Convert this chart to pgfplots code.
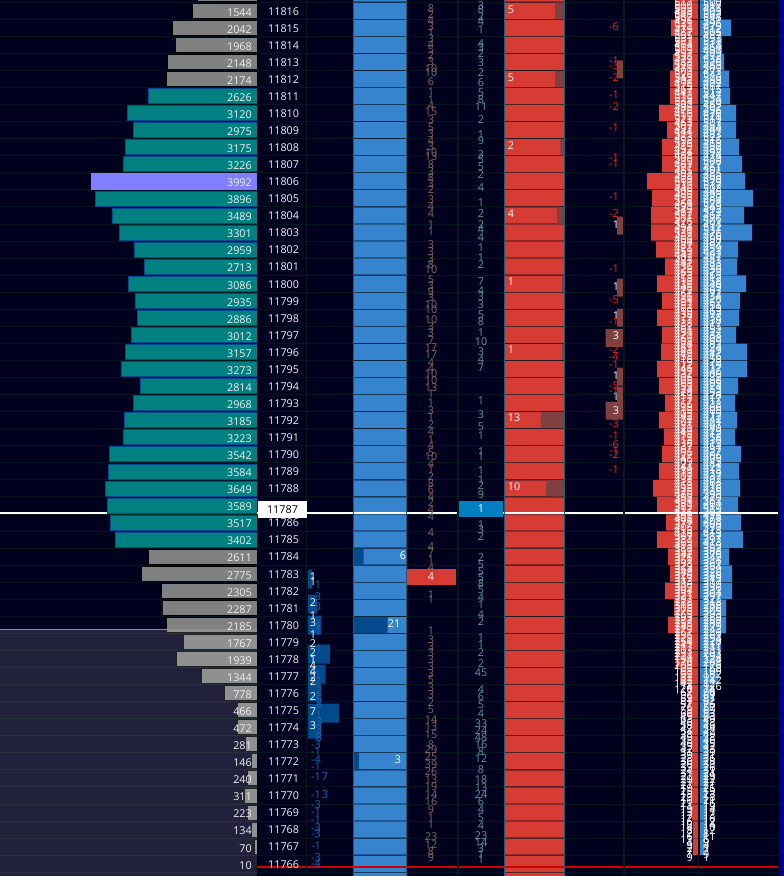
\documentclass[border=0pt]{standalone}
\usepackage{fontspec}
\setmainfont{Open Sans}
\usepackage{pgfplots}
\usepackage{pgfplotstable}
\pgfplotsset{compat=1.18}
\definecolor{bg}{HTML}{00001E}
\definecolor{rowline}{HTML}{06141F}
\definecolor{colline}{HTML}{08181C}
\definecolor{colborder}{HTML}{1A5F7A}
\definecolor{tealbar}{HTML}{008080}
\definecolor{tealedge}{HTML}{034A8C}
\definecolor{graybar}{HTML}{808080}
\definecolor{poc}{HTML}{8080FF}
\definecolor{bluecol}{HTML}{3584CD}
\definecolor{bluedark}{HTML}{034A8C}
\definecolor{redcol}{HTML}{D63C33}
\definecolor{reddark}{HTML}{804040}
\definecolor{brownnum}{HTML}{8A6660}
\definecolor{tealnum}{HTML}{5F98A0}
\definecolor{bluenum}{HTML}{0F6CB8}
\definecolor{boxblue}{HTML}{0080C0}
\definecolor{labelcol}{HTML}{F0F0F0}

% volume profile, split by colour
\pgfplotstableread{
p v
11817 1443
}\toprow
\pgfplotstableread{
p v
11816 1544
11815 2042
11814 1968
11813 2148
11812 2174
11784 2611
11783 2775
11782 2305
11781 2287
11780 2185
11779 1767
11778 1939
11777 1344
11776 778
11775 466
11774 472
11773 281
11772 146
11771 240
11770 311
11769 223
11768 134
11767 70
11766 10
}\grayrows
\pgfplotstableread{
p v
11811 2626
11810 3120
11809 2975
11808 3175
11807 3226
11805 3896
11804 3489
11803 3301
11802 2959
11801 2713
11800 3086
11799 2935
11798 2886
11797 3012
11796 3157
11795 3273
11794 2814
11793 2968
11792 3185
11791 3223
11790 3542
11789 3584
11788 3649
11787 3589
11786 3517
11785 3402
}\tealrows
\pgfplotstableread{
p v
11806 3992
}\pocrow

% book depth per row, bid and ask
\pgfplotstableread{
p r b
11817 22 20
11816 23 20
11815 27 31
11814 22 22
11813 25 24
11812 28 29
11811 28 30
11810 39 36
11809 31 36
11808 36 39
11807 36 42
11806 51 45
11805 46 53
11804 47 44
11803 47 52
11802 42 38
11801 33 37
11800 41 46
11799 36 40
11798 41 39
11797 36 36
11796 37 47
11795 41 47
11794 39 38
11793 33 35
11792 39 37
11791 34 35
11790 36 41
11789 39 39
11788 45 40
11787 41 38
11786 32 41
11785 41 43
11784 30 29
11783 28 32
11782 33 32
11781 24 26
11780 30 26
11779 22 21
11778 22 20
11777 18 18
11776 10 14
11775 10 10
11774 6 8
11773 6 7
11772 6 7
11771 6 7
11770 6 6
11769 6 6
11768 5 6
11767 5 4
}\depth
\pgfplotstableread{
p
11817
11816
11815
11814
11813
11812
11811
11810
11809
11808
11807
11806
11805
11804
11803
11802
11801
11800
11799
11798
11797
11796
11795
11794
11793
11792
11791
11790
11789
11788
11787
11786
11785
11784
11783
11782
11781
11780
11779
11778
11777
11776
11775
11774
11773
11772
11771
11770
11769
11768
11767
11766
11765
}\rows

\pgfplotsset{
  base/.style={scale only axis,height=876pt,hide axis,enlargelimits=false,clip=true},
  pricey/.style={ymin=11765.279,ymax=11816.627},
  pxy/.style={y dir=reverse,ymin=0,ymax=876},
  hbar/.style={xbar,bar shift=0pt,bar width=#1},
  lbl/.style={draw=none,mark=none,nodes near coords,point meta=explicit symbolic,
    every node near coord/.append style={font=\fontsize{10.8}{12}\selectfont,inner sep=0pt,anchor=#1}},
  lbl/.default=center,
}

\begin{document}
\begin{tikzpicture}
\useasboundingbox (0,0) rectangle (784pt,876pt);

% background and row lines
\begin{axis}[scale only axis,width=784pt,height=876pt,enlargelimits=false,pricey,xmin=0,xmax=784,
  axis background/.style={fill=bg},axis line style={draw=none},tick style={draw=none},
  xtick=\empty,yticklabels={},ytick={11765.5,11766.5,...,11816.5},
  grid=major,major grid style={rowline,line width=0.9pt}]
\addplot[draw=none] coordinates {(0,11770) (784,11770)};
\end{axis}

% blue column
\begin{axis}[base,pricey,at={(354pt,0)},width=52pt,xmin=0,xmax=32.5,hbar=16.2pt]
\addplot[fill=bluecol,draw=none] table[x expr=32.5,y=p] {\rows};
\addplot[fill=bluedark,draw=none] coordinates {(6,11784) (21,11780) (3,11772)};
\end{axis}

% red column
\begin{axis}[base,pricey,at={(505pt,0)},width=59pt,x dir=reverse,xmin=0,xmax=32.8,hbar=16.2pt]
\addplot[fill=redcol,draw=none] table[x expr=32.8,y=p] {\rows};
\addplot[fill=reddark,draw=none] coordinates {(5,11816) (5,11812) (2,11808) (4,11804) (1,11800) (1,11796) (13,11792) (10,11788)};
\end{axis}

% delta bars, right
\begin{axis}[base,pxy,at={(565pt,0)},width=58pt,x dir=reverse,xmin=0,xmax=10,hbar=18pt]
\addplot[fill=reddark,draw=none] coordinates {(1,69.5) (1,225.5) (1,287.5) (1,317.5) (3,338) (1,376.5) (1,395.5) (3,410.5)};
\end{axis}

% delta bars, left
\begin{axis}[base,pxy,at={(308pt,0)},width=45pt,xmin=0,xmax=10.2,hbar=19pt]
\addplot[fill=bluedark,draw=none] coordinates {(1,579) (2,604) (3,625) (5,654) (4,674) (3,692) (7,713) (3,729)};
\end{axis}

% depth
\begin{axis}[base,pricey,at={(598pt,0)},width=100pt,x dir=reverse,xmin=0,xmax=100,hbar=16.4pt]
\addplot[fill=redcol,draw=none] table[x=r,y=p] {\depth};
\end{axis}
\begin{axis}[base,pricey,at={(700pt,0)},width=78pt,xmin=0,xmax=78,hbar=16.4pt]
\addplot[fill=bluecol,draw=none] table[x=b,y=p] {\depth};
\end{axis}

% price lines, column lines, order boxes
\begin{axis}[base,pxy,width=784pt,xmin=0,xmax=784]
\addplot[white,line width=1.8pt] coordinates {(0,512.7) (778,512.7)};
\addplot[red!82!black,line width=1.8pt] coordinates {(257,867) (778,867)};
\addplot[colline,line width=1.5pt] coordinates {(306.5,0) (306.5,876)};
\addplot[colline,line width=1.5pt] coordinates {(458,0) (458,876)};
\addplot[colline,line width=1.5pt] coordinates {(624,0) (624,876)};
\addplot[colline,line width=1.5pt] coordinates {(698.5,0) (698.5,876)};
\addplot[colborder,line width=1pt] coordinates {(353.5,0) (353.5,876)};
\addplot[colborder,line width=1pt] coordinates {(406.5,0) (406.5,876)};
\addplot[colborder,line width=1pt] coordinates {(504.5,0) (504.5,876)};
\addplot[colborder,line width=1pt] coordinates {(564.5,0) (564.5,876)};
\addplot[fill=redcol,draw=none] coordinates {(407,569) (456,569) (456,585) (407,585)} -- cycle;
\addplot[fill=boxblue,draw=none] coordinates {(459,501) (503,501) (503,517) (459,517)} -- cycle;
\addplot[fill=blue!55!black,draw=none] coordinates {(778.5,0) (784,0) (784,876) (778.5,876)} -- cycle;
\end{axis}

% volume profile
\begin{axis}[base,pricey,width=257pt,x dir=reverse,xmin=0,xmax=6181,hbar=15pt]
\addplot[fill=graybar,draw=black,line width=0.8pt] table[x=v,y=p] {\toprow};
\addplot[fill=graybar,draw=black,line width=0.8pt] table[x=v,y=p] {\grayrows};
\addplot[fill=tealbar,draw=tealedge,line width=0.6pt] table[x=v,y=p] {\tealrows};
\addplot[fill=poc,draw=none,bar width=16.5pt] table[x=v,y=p] {\pocrow};
\end{axis}

% lower panel over the profile
\begin{axis}[base,pxy,width=784pt,xmin=0,xmax=784]
\addplot[fill=white,fill opacity=0.13,draw=none] coordinates {(0,629) (257,629) (257,876) (0,876)} -- cycle;
\addplot[poc,line width=0.9pt] coordinates {(0,629) (257,629)};
\end{axis}

% volumes and prices
\begin{axis}[base,pricey,width=784pt,xmin=0,xmax=784,clip=false]
\addplot[lbl=east,every node near coord/.append style={yshift=-1.5pt,text=labelcol}] table[x expr=252,y=p,meta=v] {\grayrows};
\addplot[lbl=east,every node near coord/.append style={yshift=-1.5pt,text=labelcol}] table[x expr=252,y=p,meta=v] {\tealrows};
\addplot[lbl=east,every node near coord/.append style={yshift=-1.5pt,text=labelcol}] table[x expr=252,y=p,meta=v] {\pocrow};
\addplot[lbl=west,every node near coord/.append style={yshift=-0.5pt,text=labelcol}] table[x expr=268,y=p,meta=p] {\grayrows};
\addplot[lbl=west,every node near coord/.append style={yshift=-0.5pt,text=labelcol}] table[x expr=268,y=p,meta=p] {\tealrows};
\addplot[lbl=west,every node near coord/.append style={yshift=-0.5pt,text=labelcol}] table[x expr=268,y=p,meta=p] {\pocrow};
\end{axis}

% all scattered numbers, placed in picture pixels
\begin{axis}[base,pxy,width=784pt,xmin=0,xmax=784,clip=false]
\node[fill=white,text=black,minimum width=49pt,minimum height=17pt,inner sep=0pt,font=\fontsize{10.8}{12}\selectfont] at (axis cs:282.5,509.5) {11787};

% sold at bid
\addplot[lbl,every node near coord/.append style={text=brownnum}] table[x expr=431,y=y,meta=t] {
y t
9 8
15 2
21 4
27 3
33 1
39 3
45 4
50 5
56 2
62 3
69 10
73 10
82 6
92 1
100 1
106 4
112 15
120 3
128 5
134 3
141 4
147 3
153 10
157 13
165 8
172 3
178 8
184 3
190 2
200 3
207 4
214 4
225 1
232 1
245 3
252 3
259 3
265 8
270 10
280 5
286 3
292 9
298 3
305 10
310 10
320 10
327 3
333 3
341 7
348 17
355 17
363 4
369 4
374 10
381 10
388 13
394 1
403 1
411 3
417 1
425 2
432 4
440 1
446 4
453 5
457 10
464 4
470 1
477 2
484 8
490 6
497 4
503 2
510 4
517 4
533 4
547 4
553 7
560 1
568 4
595 1
600 1
631 1
640 3
647 3
653 3
660 3
667 3
674 3
680 5
688 3
695 3
703 2
710 5
720 14
727 13
735 15
745 8
750 29
757 25
765 39
772 26
780 13
787 19
795 14
802 16
810 9
818 1
825 1
837 23
845 12
852 8
858 9
};

% bought at ask
\addplot[lbl,every node near coord/.append style={text=tealnum}] table[x expr=481,y=y,meta=t] {
y t
6 3
10 8
17 2
22 4
30 1
44 4
48 3
54 2
63 3
73 2
83 6
93 5
100 8
107 11
120 2
135 1
141 9
155 3
160 5
167 5
175 2
188 4
203 1
214 2
225 2
230 4
238 4
248 1
258 1
265 2
282 7
291 4
297 3
305 3
315 5
322 8
333 1
342 10
352 3
360 4
368 7
401 1
415 3
427 5
436 1
452 1
457 1
471 1
480 1
486 2
495 9
525 1
530 3
537 2
558 2
565 5
572 5
578 5
584 8
590 5
598 4
605 1
615 4
622 2
638 1
645 1
653 2
664 2
673 45
690 4
697 6
705 5
714 4
724 33
731 24
738 48
745 16
752 8
759 12
770 8
780 18
788 13
795 24
802 6
810 4
818 5
826 4
836 23
843 14
849 3
855 1
860 1
};

\addplot[lbl,every node near coord/.append style={text=white}] table[meta=t] {
x y t
431 577 4
481 509 1
403 556 6
394 624 21
398 760 3
511 10 5
511 78 5
511 146 2
511 214 4
511 282 1
511 350 1
514 418 13
514 487 10
616 225 1
616 287 1
616 316 1
616 336 3
616 376 1
616 397 1
616 411 3
313 577 1
313 582 1
313 603 2
313 616 1
313 623 3
313 635 1
313 644 2
313 653 2
313 660 1
313 666 4
313 672 4
313 678 2
313 682 2
313 697 2
313 712 7
313 726 3
};

% delta, negative side
\addplot[lbl,every node near coord/.append style={text=red!90!white}] table[meta=t] {
x y t
614 27 -6
614 61 -1
614 66 -3
614 78 -2
614 95 -1
614 107 -2
614 128 -1
614 158 -1
614 164 -1
614 197 -1
614 214 -2
614 269 -1
614 300 -5
614 322 -1
614 350 -2
614 357 -4
614 365 -1
614 386 -5
614 391 -1
614 424 -3
614 436 -1
614 445 -6
614 451 -1
614 455 -2
614 470 -1
};

% delta, blue numbers
\addplot[lbl,every node near coord/.append style={text=bluenum}] table[meta=t] {
x y t
318 585 1
318 597 3
318 607 3
318 625 4
318 632 1
319 649 1
318 675 1
318 682 7
319 691 2
319 700 5
319 705 8
319 716 1
319 722 3
319 730 3
319 738 8
316 745 -3
316 752 -1
316 760 -4
316 767 -1
316 777 -1
325 777 7
316 795 -1
325 795 3
316 805 -3
316 812 -1
316 820 -1
316 828 -3
316 834 -3
316 846 -1
316 858 -3
316 864 -4
};

% depth numbers, both sides, overlapping
\pgfplotstableread{
y L R
6 500 517
12 488 503
18 562 548
24 531 496
30 479 512
36 505 487
42 553 531
48 518 464
54 497 509
60 472 538
66 526 483
72 509 471
78 543 526
84 498 492
90 467 515
96 512 447
102 534 529
108 489 502
114 456 476
120 521 519
126 507 463
132 444 497
138 483 521
144 516 458
150 452 489
156 498 474
162 439 506
168 527 461
174 501 485
180 468 498
186 539 517
192 508 446
198 493 480
204 464 528
210 549 493
216 512 467
222 476 501
228 494 512
234 531 476
240 466 458
246 487 494
252 459 421
258 502 447
264 441 483
270 428 436
276 473 465
282 412 458
288 446 439
294 467 472
300 434 426
306 452 451
312 419 463
318 477 438
324 438 417
330 461 452
336 427 434
342 408 469
348 483 424
354 449 441
360 416 458
366 472 419
372 437 446
378 406 432
384 468 405
390 424 453
396 453 428
402 417 411
408 438 466
414 405 419
420 472 442
426 421 407
432 449 429
438 412 458
444 436 413
450 461 437
456 427 406
462 409 445
468 444 421
474 418 439
480 437 402
486 463 418
492 426 435
498 398 420
504 381 404
510 417 389
516 392 426
522 374 408
528 406 377
534 428 413
540 387 397
546 413 369
552 352 388
558 376 342
564 338 361
570 364 329
576 326 348
582 343 317
588 309 336
594 331 304
600 297 321
606 318 288
612 276 305
618 293 269
624 258 287
630 279 243
636 236 261
642 254 228
648 217 241
654 231 203
660 194 224
666 208 176
672 168 109
678 182 92
684 142 82
690 126 74
696 96 67
702 87 62
708 76 57
714 69 53
720 63 49
726 58 46
732 54 42
738 49 38
744 46 35
750 42 33
756 39 31
762 36 28
768 33 26
774 31 24
780 29 22
786 27 21
792 25 19
798 23 18
804 21 16
810 19 14
816 17 13
822 16 12
828 14 10
834 12 8
840 11 6
846 9 4
852 7 2
858 9 1
}\strip
\addplot[lbl=east,every node near coord/.append style={text=white}] table[x expr=693,y=y,meta=L] {\strip};
\addplot[lbl=west,every node near coord/.append style={text=white}] table[x expr=703,y=y,meta=R] {\strip};
\addplot[lbl=east,every node near coord/.append style={text=white}] table[x expr=693,y expr=\thisrow{y}-3,meta=R] {\strip};
\addplot[lbl=west,every node near coord/.append style={text=white}] table[x expr=703,y expr=\thisrow{y}-3,meta=L] {\strip};
\end{axis}
\end{tikzpicture}
\end{document}
